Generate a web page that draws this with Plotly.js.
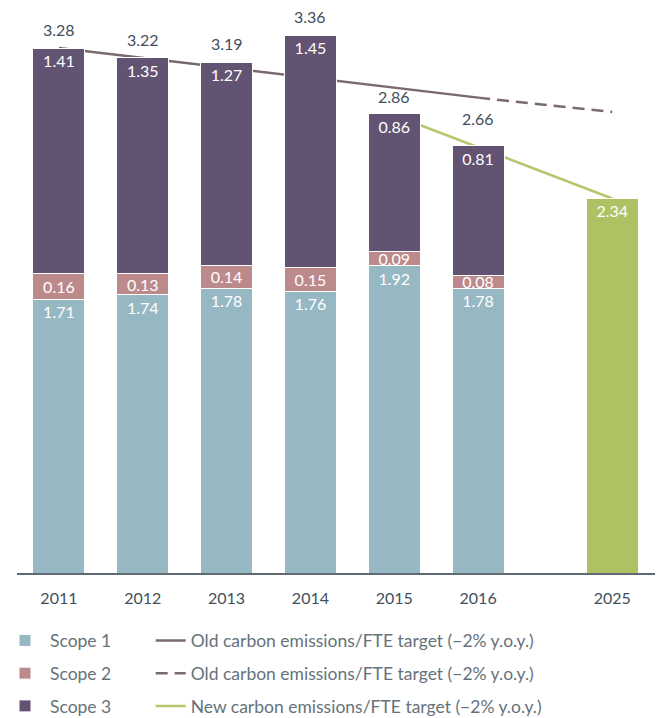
<!DOCTYPE html>
<html>
<head>
<meta charset="utf-8">
<script src="https://cdn.plot.ly/plotly-3.0.1.min.js"></script>
<style>html,body{margin:0;padding:0;background:#fff;}#chart{width:661px;height:718px;}</style>
</head>
<body>
<div id="chart"></div>
<script>
// ---- data ----
const years = ['2011', '2012', '2013', '2014', '2015', '2016'];
const scope1 = [1.71, 1.74, 1.78, 1.76, 1.92, 1.78];
const scope2 = [0.16, 0.13, 0.14, 0.15, 0.09, 0.08];
const scope3 = [1.41, 1.35, 1.27, 1.45, 0.86, 0.81];
const totals = [3.28, 3.22, 3.19, 3.36, 2.86, 2.66];
const targetYear = '2025';
const targetValue = [2.34];
const oldTargetYears = ['2011', '2016'];
const oldTargetValues = [3.28, 2.97];
const oldTargetDashYears = ['2016', '2025'];
const oldTargetDashValues = [2.97, 2.88];
const newTargetYears = ['2015', '2025'];
const newTargetValues = [2.86, 2.34];

// ---- layout helpers ----
const allYears = years.concat([targetYear]);
const EXTRA_GAP = 0.6; // extra space before the 2025 bar
function xOf(y) {
  const i = allYears.indexOf(y);
  return i < years.length ? i : i + EXTRA_GAP;
}
const xYears = years.map(xOf);
const FONT = 'Lato, "Open Sans", sans-serif';
const C1 = '#95b8c3', C2 = '#bd8a8c', C3 = '#635373', CG = '#aec264';
const OLD = '#7a6a6d', NEW = '#b4c76c';
const BW = 0.62;
const yRange = [0, 3.58];
const xRange = [-0.5, 7.11];

const barCommon = {
  type: 'bar', xaxis: 'x2', yaxis: 'y2', width: BW,
  textposition: 'inside', constraintext: 'none', cliponaxis: false,
  textangle: 0,
  textfont: {family: FONT, size: 16, color: '#ffffff'},
  insidetextfont: {family: FONT, size: 16, color: '#ffffff'},
  hoverinfo: 'skip', legend: 'legend'
};

const traces = [
  // lines (drawn underneath the bars)
  {type: 'scatter', mode: 'lines', x: oldTargetYears.map(xOf), y: oldTargetValues,
   line: {color: OLD, width: 2.5}, name: 'Old carbon emissions/FTE target (\u22122% y.o.y.)',
   legend: 'legend2', legendgroup: 'a', hoverinfo: 'skip'},
  {type: 'scatter', mode: 'lines', x: oldTargetDashYears.map(xOf), y: oldTargetDashValues,
   line: {color: OLD, width: 2.5, dash: '12px,7px'}, name: 'Old carbon emissions/FTE target (\u22122% y.o.y.)',
   legend: 'legend2', legendgroup: 'b', hoverinfo: 'skip'},
  {type: 'scatter', mode: 'lines', x: newTargetYears.map(xOf), y: newTargetValues,
   line: {color: NEW, width: 2.5}, name: 'New carbon emissions/FTE target (\u22122% y.o.y.)',
   legend: 'legend2', legendgroup: 'c', hoverinfo: 'skip'},
  // bars
  Object.assign({}, barCommon, {x: xYears, y: scope1, name: 'Scope 1', legendgroup: 's1',
    text: scope1.map(v => v.toFixed(2)), insidetextanchor: 'end',
    marker: {color: C1, line: {color: '#ffffff', width: 1}}}),
  Object.assign({}, barCommon, {x: xYears, y: scope2, name: 'Scope 2', legendgroup: 's2',
    text: scope2.map(v => v.toFixed(2)), insidetextanchor: 'middle',
    marker: {color: C2, line: {color: '#ffffff', width: 1}}}),
  Object.assign({}, barCommon, {x: xYears, y: scope3, name: 'Scope 3', legendgroup: 's3',
    text: scope3.map(v => v.toFixed(2)), insidetextanchor: 'end',
    marker: {color: C3, line: {color: '#ffffff', width: 1}}}),
  Object.assign({}, barCommon, {x: [xOf(targetYear)], y: targetValue, name: targetYear, showlegend: false,
    text: targetValue.map(v => v.toFixed(2)), insidetextanchor: 'end',
    marker: {color: CG, line: {color: '#ffffff', width: 1}}})
];

const annotations = years.map((yr, i) => ({
  x: xOf(yr), y: totals[i], xref: 'x2', yref: 'y2', text: totals[i].toFixed(2),
  showarrow: false, yanchor: 'bottom', yshift: i === years.length - 1 ? 17 : 7,
  font: {family: FONT, size: 16, color: '#3f4f5b'}
}));

const legendFont = {family: FONT, size: 17.5, color: '#66727a'};
const layout = {
  width: 661, height: 718,
  margin: {l: 17, r: 6, t: 0, b: 145, autoexpand: false},
  paper_bgcolor: '#ffffff', plot_bgcolor: 'rgba(0,0,0,0)',
  barmode: 'stack', bargap: 0,
  font: {family: FONT, size: 16, color: '#5d6a72'},
  xaxis: {range: xRange, tickvals: allYears.map(xOf), ticktext: allYears, tickangle: 0,
    showline: true, linecolor: '#5f6b73', linewidth: 2, showgrid: false, zeroline: false,
    ticks: '', ticklabelstandoff: 10, tickfont: {family: FONT, size: 16, color: '#3f4f5b'}, fixedrange: true},
  yaxis: {range: yRange, visible: false, showgrid: false, zeroline: false, fixedrange: true},
  xaxis2: {range: xRange, overlaying: 'x', visible: false, showgrid: false, zeroline: false},
  yaxis2: {range: yRange, overlaying: 'y', visible: false, showgrid: false, zeroline: false},
  legend: {xref: 'container', yref: 'container', x: 0.0, y: 0.133, xanchor: 'left', yanchor: 'top',
    orientation: 'v', traceorder: 'grouped', tracegroupgap: 7, itemwidth: 40, bgcolor: 'rgba(0,0,0,0)',
    font: legendFont},
  legend2: {xref: 'container', yref: 'container', x: 0.228, y: 0.133, xanchor: 'left', yanchor: 'top',
    orientation: 'v', traceorder: 'grouped', tracegroupgap: 7, bgcolor: 'rgba(0,0,0,0)',
    font: legendFont},
  annotations: annotations,
  showlegend: true
};

Plotly.newPlot('chart', traces, layout, {displayModeBar: false, staticPlot: true});
</script>
</body>
</html>
